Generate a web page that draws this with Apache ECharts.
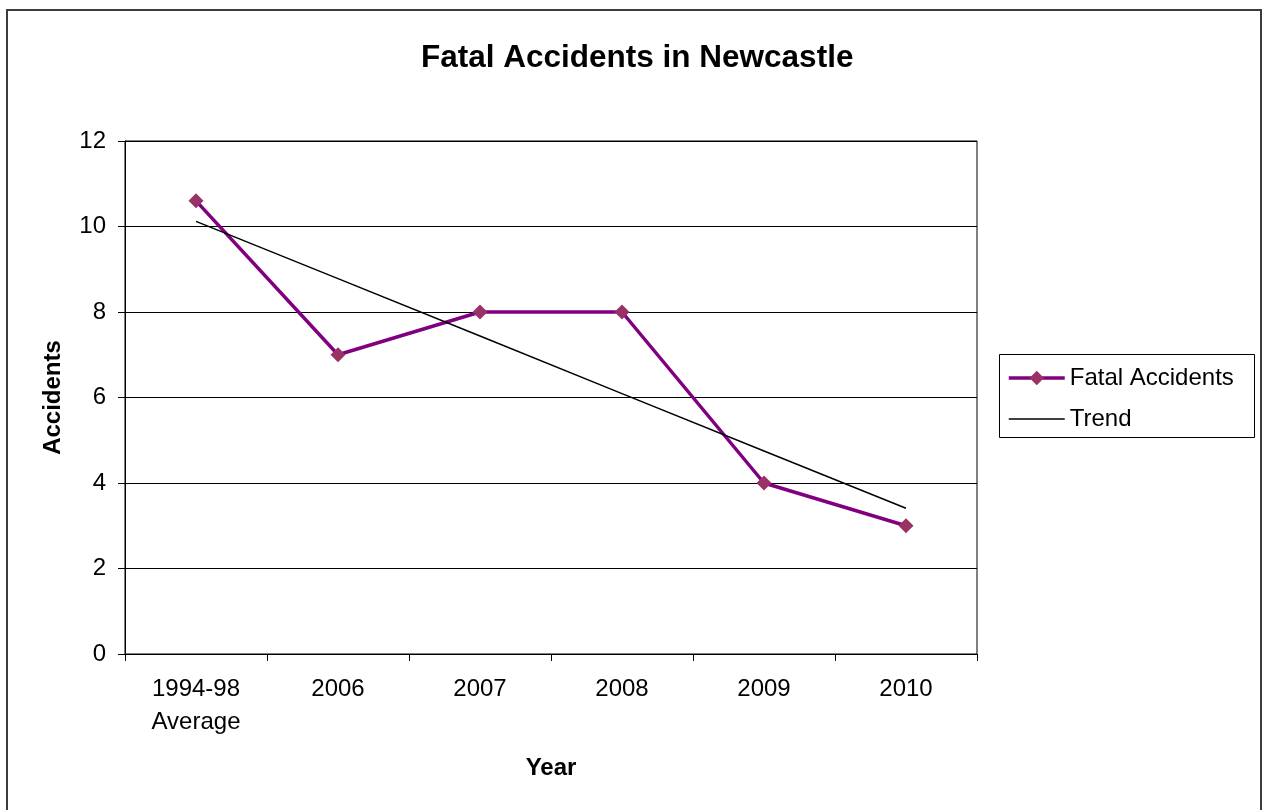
<!DOCTYPE html>
<html>
<head>
<meta charset="utf-8">
<script src="https://cdn.jsdelivr.net/npm/echarts@6/dist/echarts.min.js"></script>
<style>
html,body{margin:0;padding:0;background:#fff;}
#chart{width:1262px;height:810px;}
</style>
</head>
<body>
<div id="chart"></div>
<script>
const categories = ['1994-98\nAverage', '2006', '2007', '2008', '2009', '2010'];
const fatalAccidents = [10.6, 7, 8, 8, 4, 3];
const trend = [10.12, 8.78, 7.44, 6.09, 4.75, 3.41];
const yTicks = { min: 0, max: 12, interval: 2 };

const FONT = 'Arial, "Liberation Sans", sans-serif';
const chart = echarts.init(document.getElementById('chart'), null, { renderer: 'canvas' });
chart.setOption({
  animation: false,
  backgroundColor: '#fff',
  title: {
    text: 'Fatal Accidents in Newcastle',
    left: 421, top: 42, padding: 0,
    textStyle: { fontFamily: FONT, fontSize: 31.5, fontWeight: 'bold', color: '#000' }
  },
  legend: {
    orient: 'vertical',
    left: 1007, top: 364, padding: 0,
    itemWidth: 56, itemHeight: 18, itemGap: 13,
    textStyle: { fontFamily: FONT, fontSize: 24, color: '#000', lineHeight: 28 },
    data: [
      { name: 'Fatal Accidents', lineStyle: { width: 3.5, color: '#800080' }, itemStyle: { color: '#993366' } },
      { name: 'Trend', lineStyle: { width: 1.5, color: '#000' }, itemStyle: { opacity: 0 } }
    ]
  },
  graphic: [
    { type: 'rect', shape: { x: 7, y: 10, width: 1254, height: 820 }, style: { fill: 'none', stroke: '#3c3c3c', lineWidth: 2 }, silent: true },
    { type: 'rect', shape: { x: 999.5, y: 354.5, width: 255, height: 83 }, style: { fill: 'none', stroke: '#000', lineWidth: 1 }, silent: true }
  ],
  grid: { left: 125, top: 141, right: 285, bottom: 156, show: true, borderColor: '#000', borderWidth: 1 },
  xAxis: {
    type: 'category',
    data: categories,
    boundaryGap: true,
    name: 'Year', nameLocation: 'middle', nameGap: 102,
    nameTextStyle: { fontFamily: FONT, fontSize: 24, fontWeight: 'bold', color: '#000' },
    axisLine: { lineStyle: { color: '#000', width: 1 } },
    axisTick: { show: true, length: 7, interval: 0, lineStyle: { color: '#000' } },
    axisLabel: { fontFamily: FONT, fontSize: 24, color: '#000', margin: 19, lineHeight: 33, interval: 0 },
    splitLine: { show: false }
  },
  yAxis: {
    type: 'value',
    min: yTicks.min, max: yTicks.max, interval: yTicks.interval,
    name: 'Accidents', nameLocation: 'middle', nameGap: 60, nameRotate: 90,
    nameTextStyle: { fontFamily: FONT, fontSize: 24, fontWeight: 'bold', color: '#000' },
    axisLine: { show: true, lineStyle: { color: '#000', width: 1 } },
    axisTick: { show: true, length: 7, lineStyle: { color: '#000' } },
    axisLabel: { fontFamily: FONT, fontSize: 24, color: '#000', margin: 19 },
    splitLine: { show: true, lineStyle: { color: '#000', width: 1 } }
  },
  series: [
    {
      name: 'Fatal Accidents', type: 'line', data: fatalAccidents,
      symbol: 'diamond', symbolSize: 15,
      lineStyle: { color: '#800080', width: 3.5 },
      itemStyle: { color: '#993366', borderWidth: 0 },
      color: '#800080',
      z: 2
    },
    {
      name: 'Trend', type: 'line', data: trend,
      symbol: 'none',
      lineStyle: { color: '#000', width: 1.5 },
      itemStyle: { color: '#000' },
      color: '#000',
      z: 3
    }
  ]
});
</script>
</body>
</html>
